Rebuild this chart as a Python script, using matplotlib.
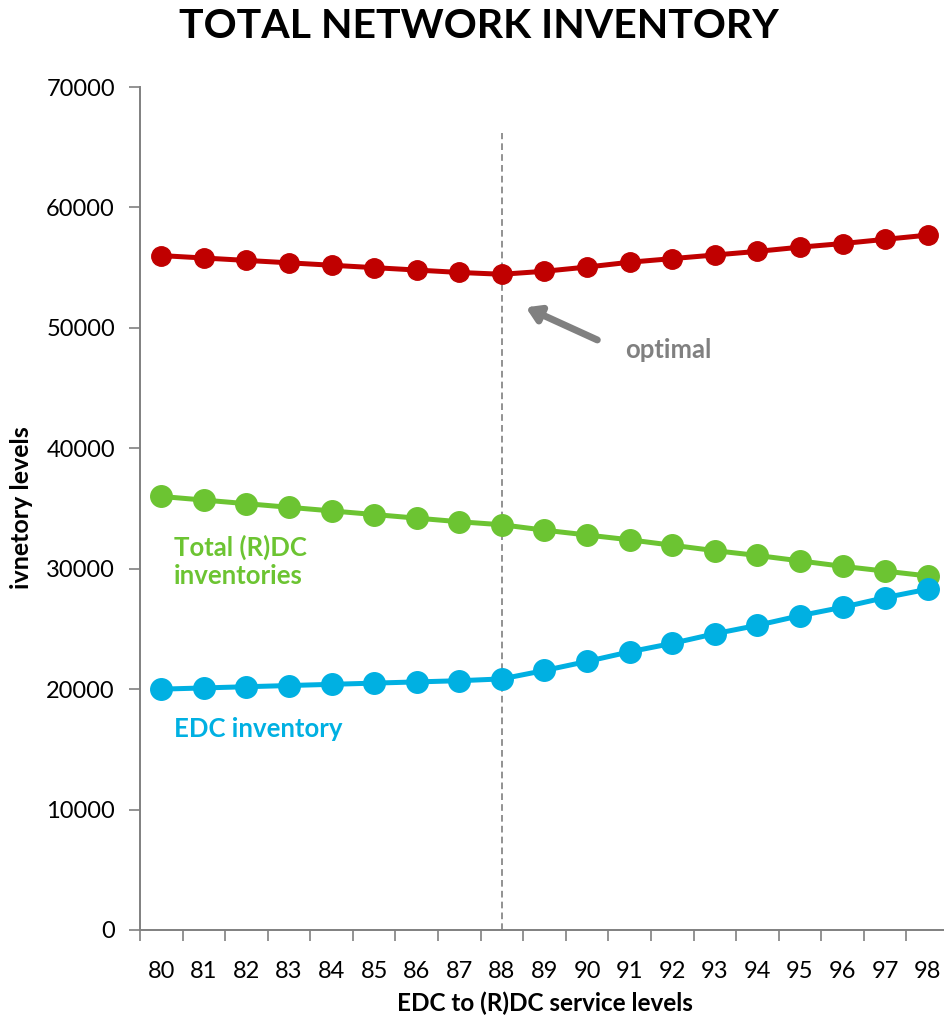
import matplotlib
matplotlib.use("Agg")
import matplotlib.pyplot as plt
import numpy as np

plt.rcParams['font.family'] = ['Lato', 'DejaVu Sans']

levels = ['80', '81', '82', '83', '84', '85', '86', '87', '88', '89', '90',
          '91', '92', '93', '94', '95', '96', '97', '98']
total_network = [56000, 55800, 55600, 55400, 55200, 55000, 54800, 54600, 54450,
                 54700, 55050, 55450, 55750, 56050, 56350, 56700, 57000, 57350, 57700]
rdc_inventory = [36000, 35700, 35400, 35100, 34800, 34500, 34200, 33900, 33650,
                 33200, 32800, 32400, 31950, 31500, 31100, 30650, 30200, 29800, 29400]
edc_inventory = [20000, 20100, 20200, 20300, 20400, 20500, 20600, 20700, 20850,
                 21550, 22300, 23100, 23800, 24600, 25300, 26100, 26800, 27600, 28300]
optimal_level = '88'

fig = plt.figure(figsize=(9.45, 10.18), dpi=100)
ax = fig.add_axes([140/945, 1-930/1018, 809/945, (930-87)/1018])

x = np.arange(len(levels))
red, green, blue = '#C00000', '#6CC432', '#00B0E2'
ax.plot(x, total_network, color=red, lw=3.6, marker='o', ms=14, zorder=4)
ax.plot(x, rdc_inventory, color=green, lw=3.6, marker='o', ms=15.5, zorder=4)
ax.plot(x, edc_inventory, color=blue, lw=3.6, marker='o', ms=15.5, zorder=4)

xi = levels.index(optimal_level)
ax.plot([xi, xi], [0, 66200], color='#7F7F7F', lw=1.2, ls=(0, (4, 2.5)), zorder=3)

ax.set_xlim(-0.5, len(levels) - 0.5)
ax.set_ylim(0, 70000)
ax.set_yticks(np.arange(0, 70001, 10000))
ax.set_xticks(x)
ax.set_xticklabels(levels)
ax.set_xticks(np.arange(-0.5, len(levels)), minor=True)
ax.tick_params(axis='x', which='major', length=0, pad=22, labelsize=17)
ax.tick_params(axis='x', which='minor', length=8, color='#808080', width=1.2)
ax.tick_params(axis='y', length=8, color='#808080', width=1.2, labelsize=17, pad=10)

for s in ['top', 'right']:
    ax.spines[s].set_visible(False)
for s in ['left', 'bottom']:
    ax.spines[s].set_color('#808080')
    ax.spines[s].set_linewidth(1.4)

fig.text(545/945, 1-1003/1018, 'EDC to (R)DC service levels', fontsize=17.5,
         fontweight='bold', ha='center', va='center')
fig.text(22/945, 1-508/1018, 'ivnetory levels', fontsize=18, fontweight='bold',
         ha='center', va='center', rotation=90)
fig.text(479/945, 1-27/1018, 'TOTAL NETWORK INVENTORY', ha='center', va='center',
         fontsize=29.5, fontweight='bold')

ax.annotate('', xy=(xi + 0.5, 51800), xytext=(xi + 2.3, 48900),
            arrowprops=dict(arrowstyle='-|>,head_length=0.8,head_width=0.5',
                            color='#808080', lw=5))
ax.text(xi + 2.9, 48200, 'optimal', color='#808080', fontsize=18.5, fontweight='bold',
        va='center', ha='left')
ax.text(0.3, 30600, 'Total (R)DC\ninventories', color=green, fontsize=18.5,
        fontweight='bold', va='center', ha='left', linespacing=1.2)
ax.text(0.3, 16700, 'EDC inventory', color=blue, fontsize=18.5,
        fontweight='bold', va='center', ha='left')

fig.savefig('out.png', dpi=100)
